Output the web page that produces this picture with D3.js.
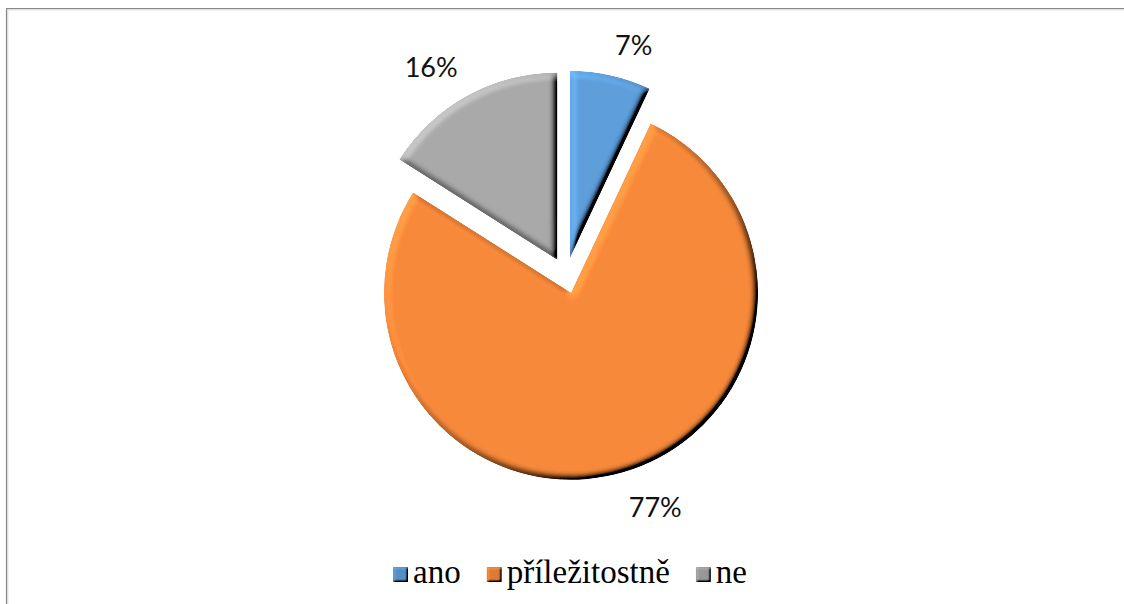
<!DOCTYPE html>
<html>
<head>
<meta charset="utf-8">
<script src="https://cdn.jsdelivr.net/npm/d3@7"></script>
<style>
  html, body { margin: 0; padding: 0; background: #fff; }
  svg { display: block; }
</style>
</head>
<body>
<svg id="chart" width="1124" height="604"></svg>
<script>
// Answers and their shares (percent)
const categories = ["ano", "příležitostně", "ne"];
const values = [7, 77, 16];
const valueLabels = ["7%", "77%", "16%"];
const colors = ["#5d9edb", "#f7893a", "#a9a9a9"];

const W = 1124, H = 604;
const svg = d3.select("#chart");

// Chart frame (top and left edges visible)
svg.append("line").attr("x1", 6).attr("x2", W).attr("y1", 8.5).attr("y2", 8.5)
  .attr("stroke", "#8a8a8a").attr("stroke-width", 1.2);
svg.append("line").attr("x1", 6.5).attr("x2", 6.5).attr("y1", 8).attr("y2", H)
  .attr("stroke", "#8a8a8a").attr("stroke-width", 1.2);
svg.append("line").attr("x1", 7).attr("x2", W).attr("y1", 9.8).attr("y2", 9.8)
  .attr("stroke", "#d4d4d4").attr("stroke-width", 1);
svg.append("line").attr("x1", 7.8).attr("x2", 7.8).attr("y1", 9).attr("y2", H)
  .attr("stroke", "#d4d4d4").attr("stroke-width", 1);

// Soft-round bevel: light from the upper left over a blurred alpha surface
const defs = svg.append("defs");
function bevel(id, std, scale, elev) {
  const f = defs.append("filter").attr("id", id)
    .attr("x", "-10%").attr("y", "-10%").attr("width", "120%").attr("height", "120%");
  f.append("feGaussianBlur").attr("in", "SourceAlpha").attr("stdDeviation", std).attr("result", "blur");
  const lit = f.append("feDiffuseLighting").attr("in", "blur").attr("surfaceScale", scale)
    .attr("diffuseConstant", 1).attr("lighting-color", "#ffffff").attr("result", "light");
  lit.append("feDistantLight").attr("azimuth", 225).attr("elevation", elev);
  f.append("feComposite").attr("in", "SourceGraphic").attr("in2", "light")
    .attr("operator", "arithmetic").attr("k1", 1 / Math.sin(elev * Math.PI / 180))
    .attr("k2", 0).attr("k3", 0).attr("k4", 0).attr("result", "shaded");
  f.append("feComposite").attr("in", "shaded").attr("in2", "SourceAlpha").attr("operator", "in");
}
bevel("bevelBig", 3.8, 7, 45);
bevel("bevelSmall", 1.3, 3, 45);

// Exploded pie
const cx = 566, cy = 275.5, radius = 187, explode = 18, labelR = 207;
const pie = d3.pie().sort(null).value(d => d).startAngle(0).endAngle(2 * Math.PI);
const arcs = pie(values);
const arc = d3.arc().innerRadius(0).outerRadius(radius);

const g = svg.append("g").attr("transform", `translate(${cx},${cy})`);

arcs.forEach((a, i) => {
  const mid = (a.startAngle + a.endAngle) / 2;
  const ox = Math.sin(mid) * explode, oy = -Math.cos(mid) * explode;
  g.append("path")
    .attr("d", arc(a))
    .attr("transform", `translate(${ox},${oy})`)
    .attr("fill", colors[i])
    .attr("filter", "url(#bevelBig)");
});

// Value labels just outside each slice, on the side of its mid-angle
arcs.forEach((a, i) => {
  const mid = (a.startAngle + a.endAngle) / 2;
  const ox = Math.sin(mid) * explode, oy = -Math.cos(mid) * explode;
  const px = ox + Math.sin(mid) * labelR, py = oy - Math.cos(mid) * labelR;
  const t = g.append("text")
    .attr("font-family", "Lato, 'Open Sans', sans-serif")
    .attr("font-size", 27)
    .attr("fill", "#111")
    .attr("text-anchor", "middle")
    .text(valueLabels[i]);
  const w = t.node().getComputedTextLength();
  const bx = px + Math.sign(Math.sin(mid)) * w / 2;
  const base = py - Math.sign(Math.cos(mid)) * 13 + 12;
  t.attr("x", bx).attr("y", base);
});

// Legend
const legend = svg.append("g");
let x = 0;
const sq = 15, gapText = 5, gapItem = 26, baseline = 583;
categories.forEach((c, i) => {
  const item = legend.append("g");
  item.append("rect").attr("x", x).attr("y", baseline - 16).attr("width", sq).attr("height", sq)
    .attr("fill", d3.color(colors[i]).darker(0.3)).attr("filter", "url(#bevelSmall)");
  const t = item.append("text").attr("x", x + sq + gapText).attr("y", baseline)
    .attr("font-family", "'Liberation Serif', 'Times New Roman', serif")
    .attr("font-size", 33).attr("fill", "#000").text(c);
  x += sq + gapText + t.node().getComputedTextLength() + gapItem;
});
const total = x - gapItem;
legend.attr("transform", `translate(${570 - total / 2},0)`);
</script>
</body>
</html>
